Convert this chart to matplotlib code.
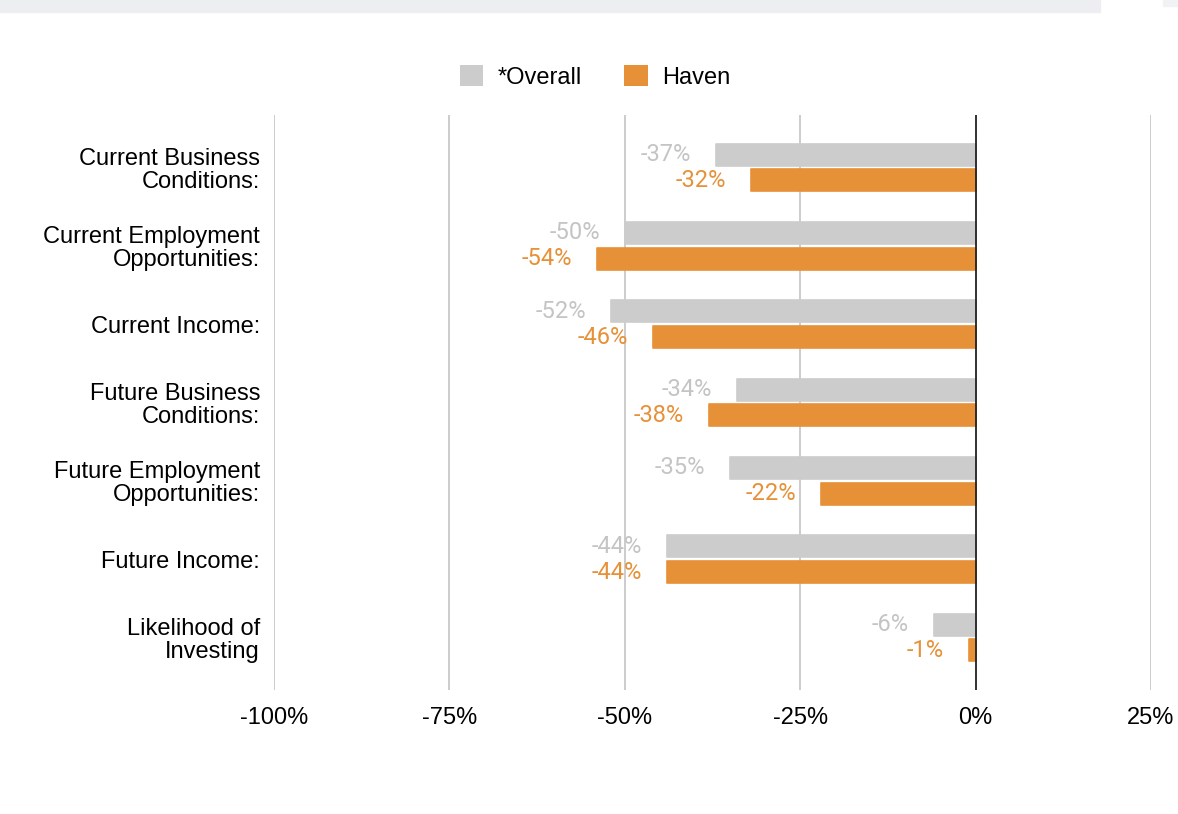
import numpy as np
import matplotlib
matplotlib.use("Agg")
import matplotlib.pyplot as plt
from matplotlib.patches import Rectangle, Patch

categories = [
    "Current Business\nConditions:",
    "Current Employment\nOpportunities:",
    "Current Income:",
    "Future Business\nConditions:",
    "Future Employment\nOpportunities:",
    "Future Income:",
    "Likelihood of\nInvesting",
]
overall = [-37, -50, -52, -34, -35, -44, -6]
haven   = [-32, -54, -46, -38, -22, -44, -1]
xticks  = [-100, -75, -50, -25, 0, 25]
series_names = ["*Overall", "Haven"]

GRAY   = "#cccccc"
GRAY_T = "#c4c4c4"
ORANGE = "#e69138"
GRID   = "#cccccc"

plt.rcParams["font.family"] = ["Liberation Sans", "DejaVu Sans"]

fig = plt.figure(figsize=(11.78, 8.14), dpi=100)
# light strip across the top
fig.patches.append(Rectangle((0, 1 - 12 / 814), 1100 / 1178, 12 / 814,
                             transform=fig.transFigure, color="#eceef1", zorder=0))
fig.patches.append(Rectangle((1163 / 1178, 1 - 6 / 814), 15 / 1178, 6 / 814,
                             transform=fig.transFigure, color="#f1f2f4", zorder=0))

ax = fig.add_axes([274 / 1178, 1 - 690 / 814, 877 / 1178, 575 / 814])

y = np.arange(len(categories))
off, h = 0.165, 0.28
ax.barh(y - off, overall, height=h, color=GRAY, edgecolor=GRAY, linewidth=1.2,
        joinstyle="round", zorder=2)
ax.barh(y + off, haven, height=h, color=ORANGE, edgecolor=ORANGE, linewidth=1.2,
        joinstyle="round", zorder=2)

lab_font = ["Roboto", "DejaVu Sans"]
for yi, v in zip(y, overall):
    ax.annotate(f"{v}%", (v, yi - off), xytext=(-18, 0), textcoords="offset points",
                ha="right", va="center", fontsize=17, color=GRAY_T, family=lab_font)
for yi, v in zip(y, haven):
    ax.annotate(f"{v}%", (v, yi + off), xytext=(-18, 0), textcoords="offset points",
                ha="right", va="center", fontsize=17, color=ORANGE, family=lab_font)

ax.set_xlim(-100, 25)
ax.set_ylim(6.67, -0.67)
for t in xticks:
    if t == 0:
        ax.axvline(t, color="#222222", lw=1.3, zorder=3)
    else:
        ax.axvline(t, color=GRID, lw=1.4, zorder=1)

ax.set_xticks(xticks)
ax.set_xticklabels([f"{t}%" for t in xticks], fontsize=17)
ax.set_yticks(y)
ax.set_yticklabels(categories, fontsize=17, ha="right", multialignment="right",
                   linespacing=1.05)
ax.tick_params(axis="both", length=0)
ax.tick_params(axis="x", pad=12)
ax.tick_params(axis="y", pad=10)
for s in ax.spines.values():
    s.set_visible(False)

handles = [Patch(facecolor=GRAY, edgecolor="none"), Patch(facecolor=ORANGE, edgecolor="none")]
fig.legend(handles, series_names, loc="center", bbox_to_anchor=(595 / 1178, 1 - 77 / 814),
           ncol=2, frameon=False, fontsize=17, handlelength=1.0, handleheight=1.0,
           handletextpad=0.6, columnspacing=1.8)

fig.savefig("out.png", dpi=100)
